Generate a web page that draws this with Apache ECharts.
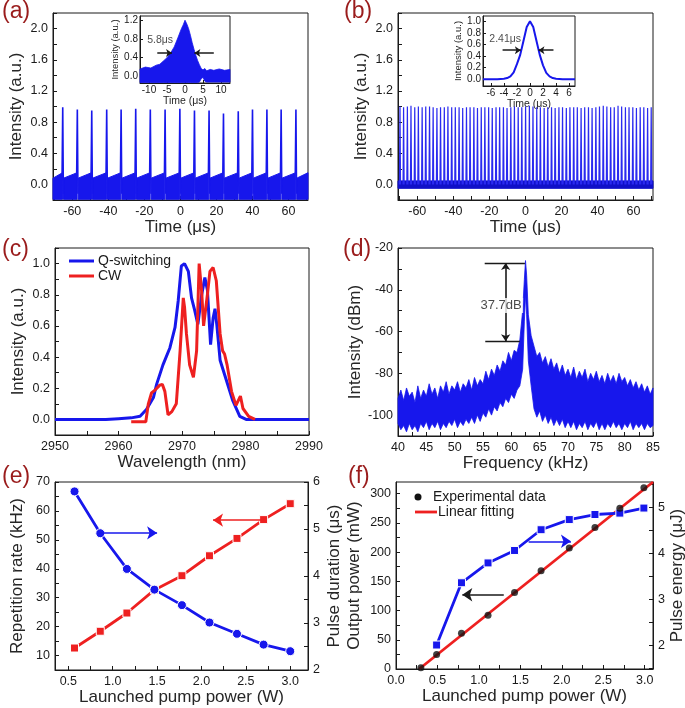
<!DOCTYPE html>
<html>
<head>
<meta charset="utf-8">
<script src="https://cdn.jsdelivr.net/npm/echarts@6/dist/echarts.min.js"></script>
<style>
  html, body { margin: 0; padding: 0; background: #fff; }
  #chart { width: 685px; height: 708px; }
</style>
</head>
<body>
<div id="chart"></div>
<script>
// ---- (a) Q-switched pulse train ----
const aPulseT = [-65.3, -57.2, -49.2, -40.9, -32.9, -24.8, -16.7, -8.5, -0.3, 7.8, 15.9, 23.9, 32.1, 40.0, 48.0, 55.9, 64.1];
const aPulseP = [0.99, 0.96, 0.95, 0.96, 0.96, 0.97, 0.96, 0.96, 0.97, 0.95, 0.95, 0.91, 0.94, 0.96, 0.96, 0.96, 0.96];
const aNoise = { low: -0.19, topStart: 0.08, topEnd: 0.15 };

// (a) inset: single pulse envelope
const aInsetT = [-12.5, -11, -9.5, -8, -7, -6, -5, -4, -3, -2, -1, -0.5, 0, 0.5, 1, 1.5, 2, 2.5, 3, 3.5, 4, 4.5, 5, 5.5, 6, 7, 8, 9.5, 11, 12.5];
const aInsetHi = [0.16, 0.2, 0.18, 0.24, 0.26, 0.33, 0.4, 0.5, 0.63, 0.82, 1.02, 1.1, 1.2, 1.12, 1.02, 0.88, 0.72, 0.58, 0.45, 0.34, 0.25, 0.17, 0.14, 0.17, 0.12, 0.15, 0.13, 0.16, 0.13, 0.15];
const aInsetLo = [-0.13, -0.13, -0.13, -0.13, -0.13, -0.13, -0.13, -0.13, -0.13, -0.13, -0.13, -0.13, -0.13, -0.13, -0.13, -0.13, -0.13, -0.13, -0.13, -0.13, -0.12, -0.05, -0.02, -0.1, -0.12, -0.12, -0.12, -0.12, -0.12, -0.12];
const aInsetArrowL = [[-7.7, 0.5], [-3.6, 0.5]];
const aInsetArrowR = [[8.0, 0.5], [2.6, 0.5]];
const aInsetLabelAt = [-6.9, 0.78];

// ---- (b) dense pulse train ----
const bPulseT = [
  -69.6, -67.6, -65.5, -63.5, -61.4, -59.4, -57.3, -55.3, -53.2, -51.2,
  -49.1, -47.1, -45.0, -43.0, -40.9, -38.9, -36.8, -34.8, -32.7, -30.7,
  -28.6, -26.6, -24.5, -22.5, -20.4, -18.4, -16.3, -14.3, -12.2, -10.2,
  -8.1, -6.1, -4.0, -2.0, 0.1, 2.2, 4.2, 6.3, 8.3, 10.4,
  12.4, 14.5, 16.5, 18.6, 20.6, 22.7, 24.7, 26.8, 28.8, 30.9,
  32.9, 35.0, 37.0, 39.1, 41.1, 43.2, 45.2, 47.3, 49.3, 51.4,
  53.4, 55.5, 57.5, 59.6, 61.6, 63.7, 65.7, 67.8, 69.8
];
const bPulseP = [
  1.00, 0.99, 1.00, 1.01, 0.99, 1.00, 0.99, 1.00, 1.00, 0.99,
  0.98, 0.99, 0.99, 1.00, 0.99, 0.99, 0.99, 0.98, 0.99, 0.99,
  0.99, 0.98, 0.99, 0.99, 0.99, 0.98, 0.99, 0.99, 0.99, 0.98,
  0.99, 1.00, 0.99, 0.99, 1.00, 1.01, 1.00, 0.99, 0.99, 0.98,
  0.99, 0.99, 0.98, 0.99, 0.99, 0.98, 0.99, 0.99, 0.99, 0.98,
  0.99, 0.99, 0.98, 0.99, 1.00, 1.01, 1.00, 0.99, 0.99, 1.01,
  1.00, 0.99, 0.99, 0.99, 0.98, 0.99, 0.99, 0.98, 0.99
];
const bNoise = { low: -0.05, high: 0.045 };
const bInsetT = [-7.2, -6, -5, -4.5, -4, -3.5, -3, -2.5, -2, -1.5, -1, -0.5, 0, 0.5, 1, 1.5, 2, 2.5, 3, 3.5, 4, 5, 6, 6.9];
const bInsetI = [0.0, 0.0, 0.0, 0.005, 0.01, 0.02, 0.05, 0.12, 0.26, 0.42, 0.66, 0.9, 1.0, 0.9, 0.66, 0.42, 0.24, 0.11, 0.05, 0.02, 0.01, 0.0, 0.0, 0.0];
const bInsetArrowL = [[-4.2, 0.5], [-1.4, 0.5]];
const bInsetArrowR = [[3.6, 0.5], [1.3, 0.5]];
const bInsetLabelAt = [-3.8, 0.69];

// ---- (c) optical spectra ----
const cQsW = [2950, 2958, 2960, 2962, 2963.4, 2964.4, 2965.5, 2966, 2967, 2968.1, 2968.9, 2969.4, 2969.9, 2970.4, 2971.0, 2971.5, 2972.0, 2972.5, 2973.1, 2973.6, 2974.0, 2974.5, 2974.9, 2975.2, 2975.5, 2976.0, 2977.0, 2978.0, 2979.1, 2980.1, 2990];
const cQsI = [0, 0, 0.005, 0.01, 0.02, 0.064, 0.14, 0.225, 0.35, 0.46, 0.59, 0.76, 0.985, 1.0, 0.95, 0.78, 0.7, 0.61, 0.8, 0.91, 0.83, 0.48, 0.65, 0.71, 0.6, 0.38, 0.25, 0.12, 0.02, 0.0, 0];
const cCwW = [2962, 2964.3, 2964.7, 2965.2, 2965.8, 2966.5, 2966.9, 2967.3, 2967.8, 2968.4, 2969.1, 2969.7, 2970.2, 2970.4, 2970.7, 2971.2, 2971.8, 2972.3, 2972.7, 2973.1, 2973.4, 2974.0, 2974.4, 2974.9, 2975.4, 2976.0, 2976.4, 2976.7, 2977.1, 2977.8, 2978.5, 2979.2, 2979.6, 2980.5, 2981.5];
const cCwI = [-0.015, -0.015, 0.1, 0.17, 0.19, 0.22, 0.225, 0.18, 0.03, 0.05, 0.1, 0.44, 0.78, 0.72, 0.55, 0.35, 0.27, 0.44, 1.0, 0.82, 0.6, 0.8, 0.95, 0.975, 0.89, 0.55, 0.44, 0.42, 0.35, 0.18, 0.09, 0.15, 0.07, 0.02, 0.0];

// ---- (d) RF spectrum: upper / lower edge of the noisy trace ----
const dFreq = [
  40, 40.5, 41, 41.5, 42, 42.5, 43, 43.5, 44, 44.5, 45, 45.5, 46, 46.5, 47, 47.5, 48, 48.5, 49, 49.5,
  50, 50.5, 51, 51.5, 52, 52.5, 53, 53.5, 54, 54.5, 55, 55.5, 56, 56.5, 57, 57.5, 58, 58.5, 59, 59.5,
  60, 60.5, 61, 61.5, 62, 62.3, 62.5, 62.7, 63, 63.5,
  64, 64.5, 65, 65.5, 66, 66.5, 67, 67.5, 68, 68.5, 69, 69.5, 70, 70.5, 71, 71.5, 72, 72.5, 73, 73.5,
  74, 74.5, 75, 75.5, 76, 76.5, 77, 77.5, 78, 78.5, 79, 79.5, 80, 80.5, 81, 81.5, 82, 82.5, 83, 83.5,
  84, 84.5, 85
];
const dHi = [
  -92, -88, -93, -87, -91, -89, -94, -86, -92, -88, -91, -85, -90, -87, -92, -86, -89, -84, -90, -86,
  -88, -84, -89, -85, -87, -83, -88, -82, -86, -83, -85, -79, -83, -78, -81, -76, -79, -74, -76, -70,
  -74, -69, -70, -64, -50, -35, -26, -33, -52, -62,
  -67, -72, -70, -75, -72, -77, -73, -78, -75, -80, -76, -81, -78, -82, -77, -83, -79, -82, -78, -84,
  -80, -83, -79, -84, -81, -85, -80, -84, -81, -85, -80, -84, -82, -86, -83, -87, -84, -88, -85, -89,
  -86, -90, -87
];
const dLo = [
  -104, -107, -105, -108, -104, -107, -105, -108, -104, -106, -103, -107, -104, -106, -103, -107, -104, -106, -103, -105,
  -102, -106, -103, -105, -102, -104, -101, -104, -100, -103, -99, -101, -97, -100, -96, -98, -94, -96, -92, -94,
  -90, -92, -88, -86, -78, -55, -42, -52, -74, -86,
  -97, -101, -98, -103, -100, -104, -101, -105, -102, -105, -102, -106, -103, -106, -103, -107, -104, -106, -103, -107,
  -104, -106, -103, -107, -104, -107, -104, -106, -103, -106, -104, -107, -104, -106, -103, -107, -104, -106, -104, -107,
  -104, -106, -105
];
const dRefTop = [[55.3, -27.2], [62.4, -27.2]];
const dRefBottom = [[55.4, -64.7], [61.5, -64.7]];
const dGap = [[59.0, -27.2], [59.0, -64.7]];
const dGapLabelAt = [58.2, -47.5];

// ---- (e) repetition rate and pulse duration ----
const ePump = [0.57, 0.86, 1.16, 1.47, 1.78, 2.09, 2.4, 2.7, 3.0];
const eRep = [12.6, 18.4, 24.7, 32.7, 37.6, 44.5, 50.5, 57.0, 62.5];
const eDur = [5.8, 4.91, 4.15, 3.71, 3.38, 3.01, 2.77, 2.54, 2.4];
const eArrowDur = [[0.86, 52.4], [1.5, 52.4]];
const eArrowRep = [[2.7, 56.8], [2.13, 56.8]];

// ---- (f) output power and pulse energy ----
const fPump = [0.3, 0.49, 0.79, 1.11, 1.43, 1.75, 2.09, 2.4, 2.7, 2.99];
const fPow = [2, 25, 61, 92, 131, 168, 207, 242, 275, 310];
const fFitX = [0.28, 3.1];
const fFitY = [0, 320];
const fEnergyPump = [0.49, 0.79, 1.11, 1.43, 1.75, 2.09, 2.4, 2.7, 2.99];
const fEnergy = [2.01, 3.36, 3.79, 4.06, 4.51, 4.73, 4.84, 4.87, 4.98];
const fArrowPow = [[1.3, 127], [0.8, 127]];
const fArrowEnergy = [[1.6, 4.26], [2.11, 4.26]];

// ---- tick labels ----
const aTimeTicks = [-60, -40, -20, 0, 20, 40, 60];
const aIntTicks = [0, 0.4, 0.8, 1.2, 1.6, 2.0];
const aInsetTimeTicks = [-10, -5, 0, 5, 10];
const aInsetIntTicks = [0, 0.4, 0.8, 1.2];
const bInsetTimeTicks = [-6, -4, -2, 0, 2, 4, 6];
const bInsetIntTicks = [0, 0.2, 0.4, 0.6, 0.8, 1.0];
const cWaveTicks = [2950, 2960, 2970, 2980, 2990];
const cIntTicks = [0, 0.2, 0.4, 0.6, 0.8, 1.0];
const dFreqTicks = [40, 45, 50, 55, 60, 65, 70, 75, 80, 85];
const dIntTicks = [-100, -80, -60, -40, -20];
const ePumpTicks = [0.5, 1.0, 1.5, 2.0, 2.5, 3.0];
const eRepTicks = [10, 20, 30, 40, 50, 60, 70];
const eDurTicks = [2, 3, 4, 5, 6];
const fPumpTicks = [0, 0.5, 1.0, 1.5, 2.0, 2.5, 3.0];
const fPowTicks = [0, 50, 100, 150, 200, 250, 300];
const fEnergyTicks = [2, 3, 4, 5];

const FONT = '"Liberation Sans", Arial, sans-serif';
const INK = '#1a1a1a';
const BLUE = '#1717ec';
const RED = '#ee2020';
const LETTER = '#9a1c1c';

const pairs = (xs, ys) => xs.map((x, i) => [x, ys[i]]);

// add minor ticks half way between majors
function withMinor(ticks, min, max) {
  const out = ticks.slice();
  const step = ticks[1] - ticks[0];
  for (let v = ticks[0] - step / 2; v <= max + 1e-9; v += step) {
    if (v >= min - 1e-9) out.push(+v.toFixed(6));
  }
  return out;
}

function axis(gridIndex, min, max, ticks, digits, o) {
  o = o || {};
  return {
    type: 'value', gridIndex: gridIndex, min: min, max: max,
    position: o.position,
    name: o.name, nameLocation: 'middle', nameGap: o.nameGap, nameRotate: o.rotate,
    nameTextStyle: { fontFamily: FONT, fontSize: o.nameSize || 17, color: '#262626' },
    axisLine: { show: true, onZero: false, lineStyle: { color: INK, width: 1 } },
    axisTick: {
      show: true, inside: true, length: o.tickLen || 4,
      customValues: o.noMinor ? ticks : withMinor(ticks, min, max),
      lineStyle: { color: INK }
    },
    axisLabel: {
      customValues: ticks, formatter: v => (+v).toFixed(digits),
      fontFamily: FONT, fontSize: o.labelSize || 12.5, color: INK,
      margin: o.margin == null ? 5 : o.margin
    },
    splitLine: { show: false }
  };
}

const gridBase = { show: true, borderColor: INK, borderWidth: 1, backgroundColor: '#fff', containLabel: false, outerBoundsMode: 'none' };
const grid = [
  { left: 53, top: 13, width: 255, height: 187 },   // a
  { left: 140, top: 16, width: 90, height: 67 },    // a inset
  { left: 398, top: 13, width: 255, height: 187 },  // b
  { left: 483, top: 16, width: 92, height: 70 },    // b inset
  { left: 55, top: 248, width: 254, height: 187 },  // c
  { left: 398, top: 248, width: 255, height: 188 }, // d
  { left: 55, top: 482, width: 253, height: 188 },  // e
  { left: 396, top: 482, width: 257, height: 187 }  // f
].map(g => Object.assign({}, gridBase, g));

const xAxis = [
  axis(0, -70.7, 70.8, aTimeTicks, 0, { name: 'Time (μs)', nameGap: 16 }),
  axis(1, -12.5, 12.5, aInsetTimeTicks, 0, { name: 'Time (μs)', nameGap: 11, nameSize: 10.5, labelSize: 10, margin: 2, tickLen: 3, noMinor: true }),
  axis(2, -70.7, 70.8, aTimeTicks, 0, { name: 'Time (μs)', nameGap: 16 }),
  axis(3, -7.2, 6.9, bInsetTimeTicks, 0, { name: 'Time (μs)', nameGap: 9, nameSize: 10.5, labelSize: 10, margin: 2, tickLen: 3, noMinor: true }),
  axis(4, 2950, 2990, cWaveTicks, 0, { name: 'Wavelength (nm)', nameGap: 15 }),
  axis(5, 40, 85, dFreqTicks, 0, { name: 'Frequency (kHz)', nameGap: 15 }),
  axis(6, 0.35, 3.2, ePumpTicks, 1, { name: 'Launched pump power (W)', nameGap: 17 }),
  axis(7, 0, 3.1, fPumpTicks, 1, { name: 'Launched pump power (W)', nameGap: 17 })
];

const yAxis = [
  axis(0, -0.2, 2.2, aIntTicks, 1, { name: 'Intensity (a.u.)', nameGap: 28, rotate: 90 }),
  axis(1, -0.14, 1.29, aInsetIntTicks, 1, { name: 'Intensity (a.u.)', nameGap: 17, rotate: 90, nameSize: 9.5, labelSize: 10, margin: 2, tickLen: 3, noMinor: true }),
  axis(2, -0.2, 2.2, aIntTicks, 1, { name: 'Intensity (a.u.)', nameGap: 28, rotate: 90 }),
  axis(3, -0.116, 1.09, bInsetIntTicks, 1, { name: 'Intensity (a.u.)', nameGap: 16, rotate: 90, nameSize: 9.5, labelSize: 10, margin: 2, tickLen: 3, noMinor: true }),
  axis(4, -0.1, 1.1, cIntTicks, 1, { name: 'Intensity (a.u.)', nameGap: 28, rotate: 90 }),
  axis(5, -110, -20, dIntTicks, 0, { name: 'Intensity (dBm)', nameGap: 30, rotate: 90 }),
  axis(6, 5, 70, eRepTicks, 0, { name: 'Repetition rate (kHz)', nameGap: 29, rotate: 90 }),
  axis(6, 2, 6, eDurTicks, 0, { name: 'Pulse duration (μs)', nameGap: 18, rotate: 90, position: 'right' }),
  axis(7, 0, 320, fPowTicks, 0, { name: 'Output power (mW)', nameGap: 33, rotate: 90 }),
  axis(7, 1.49, 5.545, fEnergyTicks, 0, { name: 'Pulse energy (μJ)', nameGap: 14, rotate: 90, position: 'right' })
];

// quad between two edges (used for the flat noise floors)
function bandItem(params, api) {
  const c = api.visual('color');
  return {
    type: 'polygon',
    shape: { points: [
      api.coord([api.value(0), api.value(1)]),
      api.coord([api.value(0), api.value(2)]),
      api.coord([api.value(3), api.value(5)]),
      api.coord([api.value(3), api.value(4)])
    ] },
    style: { fill: c, stroke: c, lineWidth: 1 }
  };
}
// whole noisy trace as one polygon: items are [x, low, high]
function envelopeItem(params, api) {
  if (params.dataIndexInside !== 0) return null;
  const n = params.dataInsideLength;
  const top = [], bottom = [];
  for (let i = 0; i < n; i++) {
    top.push(api.coord([api.value(0, i), api.value(2, i)]));
    bottom.push(api.coord([api.value(0, i), api.value(1, i)]));
  }
  const c = api.visual('color');
  return { type: 'polygon', shape: { points: top.concat(bottom.reverse()) }, style: { fill: c, stroke: c, lineWidth: 0.8 } };
}
// one spike per pulse: rise from `base`, fall to `tail`
function pulseRenderer(rise, fall, base, tail, width) {
  return function (params, api) {
    const t = api.value(0), p = api.value(1);
    return {
      type: 'polyline',
      shape: { points: [api.coord([t - rise, base]), api.coord([t, p]), api.coord([t + fall, tail])] },
      style: { stroke: api.visual('color'), lineWidth: width, fill: null }
    };
  };
}
function bandSeries(x, y, data, color) {
  return {
    type: 'custom', xAxisIndex: x, yAxisIndex: y, renderItem: bandItem, data: data,
    encode: { x: [0, 3], y: [1, 2, 4, 5] }, itemStyle: { color: color }, silent: true, z: 2
  };
}
function envelopeSeries(x, y, xs, lo, hi, color) {
  return {
    type: 'custom', xAxisIndex: x, yAxisIndex: y, renderItem: envelopeItem,
    data: xs.map((v, i) => [v, lo[i], hi[i]]),
    encode: { x: 0, y: [1, 2] }, itemStyle: { color: color }, silent: true, z: 2
  };
}
function arrowSeries(x, y, segs, color, both, size) {
  return {
    type: 'lines', coordinateSystem: 'cartesian2d', xAxisIndex: x, yAxisIndex: y,
    symbol: both ? ['arrow', 'arrow'] : ['none', 'arrow'], symbolSize: size || 8,
    lineStyle: { color: color, width: 1.6, opacity: 1 }, silent: true, z: 6,
    data: segs.map(s => ({ coords: s }))
  };
}
function textSeries(x, y, at, text, size, bg) {
  return {
    type: 'scatter', xAxisIndex: x, yAxisIndex: y, data: [at], silent: true, z: 8,
    symbol: 'rect', symbolSize: bg ? [44, 15] : 1,
    itemStyle: { color: bg ? '#fff' : 'rgba(0,0,0,0)' },
    label: { show: true, position: 'inside', formatter: text, color: INK, fontFamily: FONT, fontSize: size }
  };
}

// (a) noise floor between spikes
const aBand = [];
for (let i = 0; i <= aPulseT.length; i++) {
  const x0 = i === 0 ? -70.7 : aPulseT[i - 1] + 0.45;
  const x1 = i === aPulseT.length ? 70.8 : aPulseT[i] - 0.15;
  aBand.push([x0, aNoise.low, aNoise.topStart, x1, aNoise.low, aNoise.topEnd]);
}

const series = [
  // (a)
  bandSeries(0, 0, aBand, BLUE),
  { type: 'custom', xAxisIndex: 0, yAxisIndex: 0, data: pairs(aPulseT, aPulseP), renderItem: pulseRenderer(0.35, 0.35, 0.14, -0.12, 1.6), itemStyle: { color: BLUE }, silent: true, z: 3 },
  envelopeSeries(1, 1, aInsetT, aInsetLo, aInsetHi, BLUE),
  arrowSeries(1, 1, [aInsetArrowL, aInsetArrowR], INK, false, 6),
  textSeries(1, 1, aInsetLabelAt, '5.8μs', 10.5),
  // (b)
  bandSeries(2, 2, [[-70.7, bNoise.low, bNoise.high, 70.8, bNoise.low, bNoise.high]], '#1010c8'),
  { type: 'custom', xAxisIndex: 2, yAxisIndex: 2, data: pairs(bPulseT, bPulseP), renderItem: pulseRenderer(0.3, 0.3, 0.0, 0.0, 1.2), itemStyle: { color: '#2a2af0' }, silent: true, z: 3 },
  { type: 'line', xAxisIndex: 3, yAxisIndex: 3, data: pairs(bInsetT, bInsetI), showSymbol: false, symbol: 'none', lineStyle: { color: BLUE, width: 2 }, silent: true },
  arrowSeries(3, 3, [bInsetArrowL, bInsetArrowR], INK, false, 6),
  textSeries(3, 3, bInsetLabelAt, '2.41μs', 10.5),
  // (c)
  { name: 'Q-switching', type: 'line', xAxisIndex: 4, yAxisIndex: 4, data: pairs(cQsW, cQsI), symbol: 'none', lineStyle: { color: BLUE, width: 3 }, itemStyle: { color: BLUE }, z: 3 },
  { name: 'CW', type: 'line', xAxisIndex: 4, yAxisIndex: 4, data: pairs(cCwW, cCwI), symbol: 'none', lineStyle: { color: RED, width: 3 }, itemStyle: { color: RED }, z: 4 },
  // (d)
  envelopeSeries(5, 5, dFreq, dLo, dHi, BLUE),
  { type: 'lines', coordinateSystem: 'cartesian2d', xAxisIndex: 5, yAxisIndex: 5, symbol: 'none', lineStyle: { color: INK, width: 1.4, opacity: 1 }, silent: true, z: 6, data: [{ coords: dRefTop }, { coords: dRefBottom }] },
  arrowSeries(5, 5, [dGap], INK, true, 7),
  textSeries(5, 5, dGapLabelAt, '37.7dB', 13, true),
  // (e)
  { type: 'line', xAxisIndex: 6, yAxisIndex: 6, data: pairs(ePump, eRep), symbol: 'rect', symbolSize: 8, lineStyle: { color: RED, width: 2.8 }, itemStyle: { color: RED, borderColor: '#fff', borderWidth: 1 }, silent: true, z: 3 },
  { type: 'line', xAxisIndex: 6, yAxisIndex: 7, data: pairs(ePump, eDur), symbol: 'circle', symbolSize: 9, lineStyle: { color: BLUE, width: 2.8 }, itemStyle: { color: BLUE, borderColor: '#fff', borderWidth: 1 }, silent: true, z: 3 },
  arrowSeries(6, 6, [eArrowDur], BLUE, false, 10),
  arrowSeries(6, 6, [eArrowRep], RED, false, 10),
  // (f)
  { type: 'line', xAxisIndex: 7, yAxisIndex: 8, data: pairs(fFitX, fFitY), symbol: 'none', lineStyle: { color: RED, width: 2.8 }, silent: true, z: 3 },
  { type: 'scatter', xAxisIndex: 7, yAxisIndex: 8, data: pairs(fPump, fPow), symbol: 'circle', symbolSize: 7, itemStyle: { color: '#111' }, silent: true, z: 4 },
  { type: 'line', xAxisIndex: 7, yAxisIndex: 9, data: pairs(fEnergyPump, fEnergy), symbol: 'rect', symbolSize: 8, lineStyle: { color: BLUE, width: 2.8 }, itemStyle: { color: BLUE, borderColor: '#fff', borderWidth: 1 }, silent: true, z: 3 },
  arrowSeries(7, 8, [fArrowPow], INK, false, 10),
  arrowSeries(7, 9, [fArrowEnergy], BLUE, false, 10)
];

const letter = (text, x, y) => ({ type: 'text', x: x, y: y, style: { text: text, fontFamily: FONT, fontSize: 23, fill: LETTER, verticalAlign: 'top' } });
const legendText = (text, x, y) => ({ type: 'text', x: x, y: y, style: { text: text, fontFamily: FONT, fontSize: 14, fill: INK, verticalAlign: 'middle' } });

const option = {
  animation: false,
  backgroundColor: '#fff',
  textStyle: { fontFamily: FONT },
  grid: grid,
  xAxis: xAxis,
  yAxis: yAxis,
  legend: {
    data: [{ name: 'Q-switching', icon: 'rect' }, { name: 'CW', icon: 'rect' }],
    orient: 'vertical', left: 64, top: 249,
    itemWidth: 25, itemHeight: 3, itemGap: 1, selectedMode: false,
    textStyle: { fontFamily: FONT, fontSize: 14, color: INK, padding: [0, 0, 0, -1] }
  },
  graphic: [
    letter('(a)', 2, 0), letter('(b)', 344, 0), letter('(c)', 2, 238),
    letter('(d)', 343, 238), letter('(e)', 2, 465), letter('(f)', 348, 465),
    { type: 'circle', shape: { cx: 418, cy: 497, r: 3.5 }, style: { fill: '#111' } },
    legendText('Experimental data', 433, 497),
    { type: 'line', shape: { x1: 415, y1: 512, x2: 437, y2: 512 }, style: { stroke: RED, lineWidth: 2.8 } },
    legendText('Linear fitting', 438, 512)
  ],
  series: series
};

const chart = echarts.init(document.getElementById('chart'), null, { renderer: 'canvas' });
chart.setOption(option);
</script>
</body>
</html>
